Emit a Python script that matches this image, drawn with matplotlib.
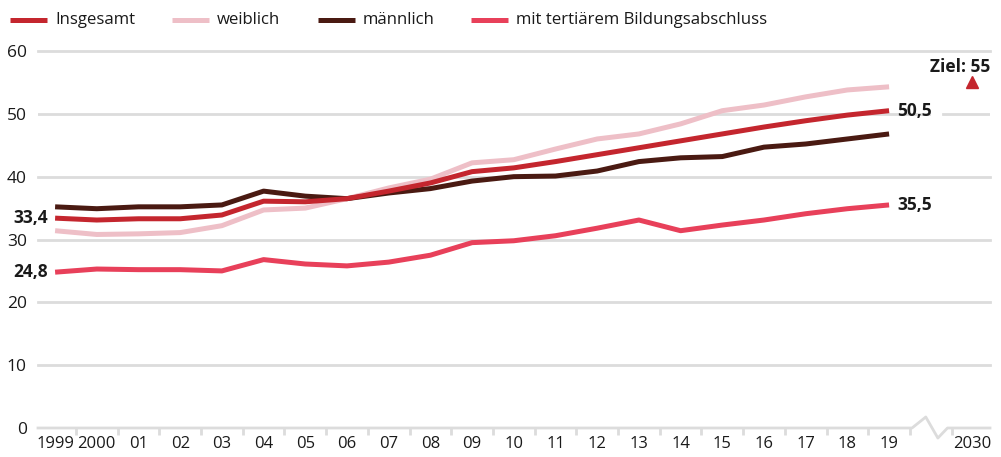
import matplotlib.pyplot as plt
from matplotlib.lines import Line2D
import numpy as np

plt.rcParams['font.family'] = ['Open Sans', 'DejaVu Sans']

# Data (Anteil in %)
years = ['1999', '2000', '01', '02', '03', '04', '05', '06', '07', '08', '09',
         '10', '11', '12', '13', '14', '15', '16', '17', '18', '19']
insgesamt = [33.4, 33.1, 33.3, 33.3, 33.9, 36.1, 36.0, 36.5, 37.7, 39.0, 40.8,
             41.4, 42.4, 43.5, 44.6, 45.7, 46.8, 47.9, 48.9, 49.8, 50.5]
weiblich = [31.4, 30.8, 30.9, 31.1, 32.2, 34.7, 35.0, 36.5, 38.2, 39.6, 42.2,
            42.7, 44.4, 46.0, 46.8, 48.4, 50.5, 51.4, 52.7, 53.8, 54.3]
maennlich = [35.2, 34.9, 35.2, 35.2, 35.5, 37.7, 36.9, 36.5, 37.4, 38.1, 39.3,
             40.0, 40.1, 40.9, 42.4, 43.0, 43.2, 44.7, 45.2, 46.0, 46.8]
tertiaer = [24.8, 25.3, 25.2, 25.2, 25.0, 26.8, 26.1, 25.8, 26.4, 27.5, 29.5,
            29.8, 30.6, 31.8, 33.1, 31.4, 32.3, 33.1, 34.1, 34.9, 35.5]
ziel = 55
ziel_label = '2030'
series_names = ['Insgesamt', 'weiblich', 'männlich', 'mit tertiärem Bildungsabschluss']

c_ins = '#c4262e'
c_wei = '#eebfc7'
c_mae = '#4a1a12'
c_ter = '#e8405a'
grid_c = '#dcdcdc'
txt_c = '#1a1a1a'

fig = plt.figure(figsize=(10.01, 4.57), dpi=100)
ax = fig.add_axes([38 / 1001, 29 / 457, 952 / 1001, 377 / 457])

x = np.arange(len(years))
ax.set_xlim(-0.41, 22.42)
ax.set_ylim(0, 60)

# gridlines (50 line interrupted for the label)
for v in [10, 20, 30, 40, 60]:
    ax.plot([-0.41, 22.42], [v, v], color=grid_c, lw=2, zorder=1, clip_on=False)
ax.plot([-0.41, 20.95], [50, 50], color=grid_c, lw=2, zorder=1)
ax.plot([21.3, 22.42], [50, 50], color=grid_c, lw=2, zorder=1)

# baseline with axis break
ax.plot([-0.41, 20.55, 20.88, 21.17, 21.4, 22.42], [0, 0, 1.75, -1.6, 0, 0],
        color=grid_c, lw=2, zorder=1, clip_on=False)

lw = 3.6
l1, = ax.plot(x, insgesamt, color=c_ins, lw=lw, zorder=4, solid_capstyle='butt')
l2, = ax.plot(x, weiblich, color=c_wei, lw=lw, zorder=3, solid_capstyle='butt')
l3, = ax.plot(x, maennlich, color=c_mae, lw=lw, zorder=3, solid_capstyle='butt')
l4, = ax.plot(x, tertiaer, color=c_ter, lw=lw, zorder=3, solid_capstyle='butt')

# target marker
ax.plot([22], [ziel], marker='^', color=c_ins, markersize=9, ls='none', zorder=5)
ax.text(22.42, ziel + 2.4, 'Ziel: 55', ha='right', va='center', fontsize=12.5,
        fontweight='bold', color=txt_c)

# value labels
def fmt(v):
    return f'{v:.1f}'.replace('.', ',')

ax.text(-0.17, insgesamt[0], fmt(insgesamt[0]), ha='right', va='center',
        fontsize=12.5, fontweight='bold', color=txt_c, clip_on=False)
ax.text(-0.17, tertiaer[0], fmt(tertiaer[0]), ha='right', va='center',
        fontsize=12.5, fontweight='bold', color=txt_c, clip_on=False)
ax.text(20.2, insgesamt[-1], fmt(insgesamt[-1]), ha='left', va='center',
        fontsize=12.5, fontweight='bold', color=txt_c)
ax.text(20.2, tertiaer[-1], fmt(tertiaer[-1]), ha='left', va='center',
        fontsize=12.5, fontweight='bold', color=txt_c)

# axes styling
for s in ax.spines.values():
    s.set_visible(False)
ax.set_yticks([0, 10, 20, 30, 40, 50, 60])
ax.tick_params(axis='y', length=0, pad=8, labelsize=12.5, labelcolor=txt_c)
ax.set_xticks(list(x) + [22])
ax.set_xticklabels(years + [ziel_label])
ax.tick_params(axis='x', which='major', length=0, pad=6, labelsize=12,
               labelcolor=txt_c)
ax.set_xticks(list(np.arange(0.5, 21, 1)) + [21.5], minor=True)
ax.tick_params(axis='x', which='minor', length=5, width=2, color=grid_c)

# legend, drawn by hand in figure pixels
W, H = 1001, 457
ly = 1 - 19.5 / H
handle_x = [10, 172, 318, 471]
for hx, line, name in zip(handle_x, [l1, l2, l3, l4], series_names):
    fig.add_artist(Line2D([hx / W, (hx + 37) / W], [ly, ly], color=line.get_color(),
                          lw=lw, solid_capstyle='butt'))
    fig.text((hx + 45) / W, ly, name, ha='left', va='center', fontsize=12.1,
             color=txt_c)

fig.savefig('out.png', dpi=100)
